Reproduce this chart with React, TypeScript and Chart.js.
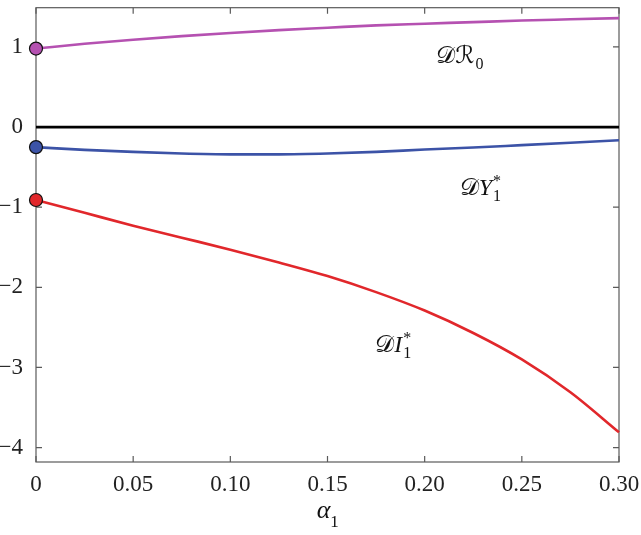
import React, { useEffect, useRef } from "react";
import { Chart, registerables } from "chart.js";

Chart.register(...registerables);

// ---- data ----
const ALPHA = [0, 0.025, 0.05, 0.075, 0.1, 0.125, 0.15, 0.175, 0.2, 0.225, 0.25, 0.275, 0.3];
const DR0 = [0.98, 1.04, 1.09, 1.135, 1.175, 1.21, 1.24, 1.27, 1.29, 1.31, 1.33, 1.345, 1.36];
const DY1 = [-0.25, -0.285, -0.31, -0.33, -0.34, -0.34, -0.33, -0.31, -0.28, -0.255, -0.225, -0.195, -0.165];
const DI1 = [-0.91, -1.07, -1.23, -1.38, -1.53, -1.69, -1.86, -2.06, -2.29, -2.57, -2.9, -3.31, -3.81];
const ZERO_X = [0, 0.3];
const ZERO_Y = [0, 0];

const X_TICKS = [0, 0.05, 0.1, 0.15, 0.2, 0.25, 0.3];
const X_TICK_LABELS = ["0", "0.05", "0.10", "0.15", "0.20", "0.25", "0.30"];
const Y_TICKS = [-4, -3, -2, -1, 0, 1];
const Y_TICK_LABELS = ["\u22124", "\u22123", "\u22122", "\u22121", "0", "1"];
const X_TITLE = "\u03B1";
const X_TITLE_SUB = "1";

// curve labels (anchor in data units)
const LABEL_X = [0.206, 0.218, 0.1746];
const LABEL_Y = [0.8, -0.85, -2.81];
const LABEL_TEXTS = [
  { parts: [{ t: "\u{1D49F}\u211B", it: false }], sub: "0", sup: "" },
  { parts: [{ t: "\u{1D49F}", it: false }, { t: "Y", it: true }], sub: "1", sup: "*" },
  { parts: [{ t: "\u{1D49F}", it: false }, { t: "I", it: true }], sub: "1", sup: "*" },
];

const FONT = "'Liberation Serif', 'DejaVu Serif', 'DejaVu Sans', serif";
const MAGENTA = "#b551b1";
const BLUE = "#3c53a7";
const RED = "#e1272b";

const toPts = (ys: number[]) => ALPHA.map((a, i) => ({ x: a, y: ys[i] }));

const framePlugin = {
  id: "frame",
  beforeDatasetsDraw(chart: any) {
    const { ctx, chartArea, scales } = chart;
    const { left, right, top, bottom } = chartArea;
    ctx.save();
    ctx.strokeStyle = "#5a5a5a";
    ctx.lineWidth = 1.2;
    ctx.strokeRect(left, top, right - left, bottom - top);
    const L = 6;
    ctx.beginPath();
    scales.x.ticks.forEach((t: any) => {
      const px = scales.x.getPixelForValue(t.value);
      ctx.moveTo(px, bottom);
      ctx.lineTo(px, bottom - L);
      ctx.moveTo(px, top);
      ctx.lineTo(px, top + L);
    });
    scales.y.ticks.forEach((t: any) => {
      const py = scales.y.getPixelForValue(t.value);
      ctx.moveTo(left, py);
      ctx.lineTo(left + L, py);
      ctx.moveTo(right, py);
      ctx.lineTo(right - L, py);
    });
    ctx.stroke();
    ctx.restore();
  },
  afterDatasetsDraw(chart: any) {
    const { ctx, chartArea, scales } = chart;
    ctx.save();
    ctx.fillStyle = "#111";
    ctx.textBaseline = "alphabetic";
    ctx.textAlign = "left";
    LABEL_TEXTS.forEach((lab, i) => {
      let x = scales.x.getPixelForValue(LABEL_X[i]);
      const y = scales.y.getPixelForValue(LABEL_Y[i]);
      lab.parts.forEach((p) => {
        ctx.font = `${p.it ? "italic " : ""}24px ${FONT}`;
        ctx.fillText(p.t, x, y);
        x += ctx.measureText(p.t).width;
      });
      ctx.font = `16px ${FONT}`;
      if (lab.sub) ctx.fillText(lab.sub, x + 1, y + 6);
      if (lab.sup) ctx.fillText(lab.sup, x + 1, y - 9);
    });
    // x-axis title
    const cx = (chartArea.left + chartArea.right) / 2;
    ctx.font = `italic 26px ${FONT}`;
    const aw = ctx.measureText(X_TITLE).width;
    ctx.fillText(X_TITLE, cx - aw / 2 - 4, 518);
    ctx.font = `17px ${FONT}`;
    ctx.fillText(X_TITLE_SUB, cx + aw / 2 - 4, 527);
    ctx.restore();
  },
};

export default function App() {
  const ref = useRef<HTMLCanvasElement>(null);
  useEffect(() => {
    if (!ref.current) return;
    const dot = (c: any) => (c.dataIndex === 0 ? 6.5 : 0);
    const series = (ys: number[], color: string) => ({
      data: toPts(ys),
      borderColor: color,
      backgroundColor: color,
      borderWidth: 2.6,
      pointRadius: dot,
      pointBorderColor: "#111",
      pointBorderWidth: 1.2,
      cubicInterpolationMode: "monotone",
      clip: false,
    });
    const chart = new Chart(ref.current, {
      type: "line",
      data: {
        datasets: [
          {
            data: ZERO_X.map((x, i) => ({ x, y: ZERO_Y[i] })),
            borderColor: "#000",
            borderWidth: 2.6,
            pointRadius: 0,
          },
          series(DR0, MAGENTA),
          series(DY1, BLUE),
          series(DI1, RED),
        ],
      } as any,
      options: {
        animation: false,
        responsive: true,
        maintainAspectRatio: false,
        layout: { padding: { left: 0, right: 22, top: 3, bottom: 0 } },
        plugins: { legend: { display: false }, tooltip: { enabled: false } },
        scales: {
          x: {
            type: "linear",
            min: 0,
            max: 0.3,
            grid: { display: false, drawTicks: false },
            border: { display: false },
            afterBuildTicks: (s: any) => {
              s.ticks = X_TICKS.map((v) => ({ value: v }));
            },
            afterFit: (s: any) => {
              s.height = 73;
              s.paddingLeft = 0;
              s.paddingRight = 0;
            },
            ticks: {
              padding: 9,
              color: "#222",
              autoSkip: false,
              maxRotation: 0,
              font: { family: FONT, size: 23 },
              callback: (_v: any, i: number) => X_TICK_LABELS[i],
            },
          },
          y: {
            type: "linear",
            min: -4.18,
            max: 1.49,
            grid: { display: false, drawTicks: false },
            border: { display: false },
            afterBuildTicks: (s: any) => {
              s.ticks = Y_TICKS.map((v) => ({ value: v }));
            },
            afterFit: (s: any) => {
              s.width = 36;
              s.paddingTop = 0;
              s.paddingBottom = 0;
            },
            ticks: {
              padding: 13,
              color: "#222",
              autoSkip: false,
              font: { family: FONT, size: 23 },
              callback: (_v: any, i: number) => Y_TICK_LABELS[i],
            },
          },
        },
      } as any,
      plugins: [framePlugin],
    });
    return () => chart.destroy();
  }, []);
  return (
    <div style={{ position: "fixed", left: 0, top: 0, width: 641, height: 535, background: "#fff" }}>
      <canvas ref={ref} />
    </div>
  );
}
